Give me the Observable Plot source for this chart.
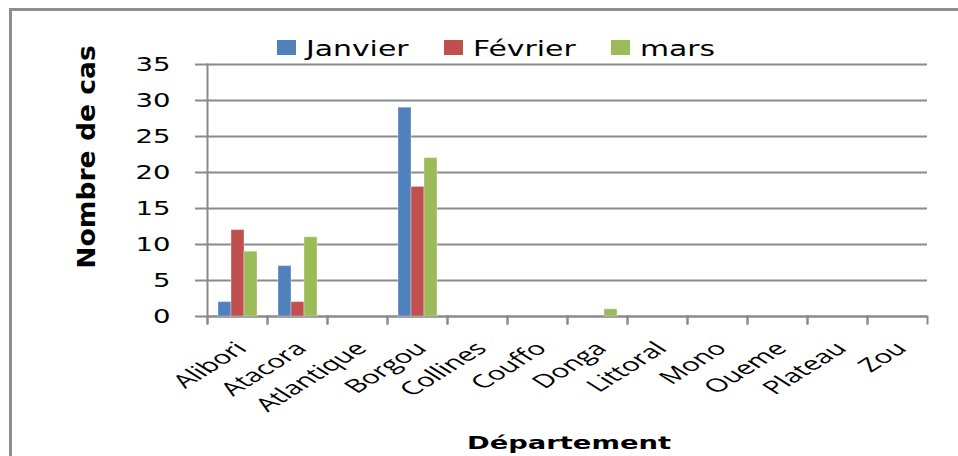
<!DOCTYPE html>
<html><head><meta charset="utf-8">
<script src="https://cdn.jsdelivr.net/npm/d3@7"></script>
<script src="https://cdn.jsdelivr.net/npm/@observablehq/plot@0.6"></script>
<style>
html,body{margin:0;padding:0;background:#fff;}
#wrap{position:relative;width:958px;height:456px;overflow:hidden;background:#fff;}
#border{position:absolute;left:9px;top:8px;width:980px;height:480px;border-left:3px solid #8e8e8e;border-top:3px solid #8e8e8e;}
#chart{position:absolute;left:0;top:0;}
#legend{position:absolute;left:277px;top:39px;display:flex;font-family:"DejaVu Sans";font-size:21px;line-height:21px;}
.item{display:flex;align-items:flex-start;width:167px;}
.sw{width:19px;height:15px;margin-top:1px;margin-right:10px;flex:none;}
.lt{display:inline-block;transform:scaleX(1.42);transform-origin:0 0;white-space:nowrap;color:#000;}
#xtitle{position:absolute;left:469px;top:434px;width:200px;text-align:center;font-family:"DejaVu Sans";font-weight:bold;font-size:18px;line-height:18px;transform:scaleX(1.52);transform-origin:50% 0;white-space:nowrap;}
#ytitle{position:absolute;left:87px;top:157px;width:0;height:0;}
#ytitle span{position:absolute;left:0;top:0;white-space:nowrap;font-family:"DejaVu Sans";font-weight:bold;font-size:19px;line-height:19px;transform-origin:0 0;transform:scale(1.3,1.4) rotate(-90deg) translate(-50%,-50%);}
</style>
</head><body>
<div id="wrap">
  <div id="border"></div>
  <div id="chart"></div>
  <div id="legend"></div>
  <div id="ytitle"><span></span></div>
  <div id="xtitle"></div>
</div>
<script>
const departements = ["Alibori","Atacora","Atlantique","Borgou","Collines","Couffo","Donga","Littoral","Mono","Oueme","Plateau","Zou"];
const mois = ["Janvier","Février","mars"];
const janvier = [2,7,0,29,0,0,0,0,0,0,0,0];
const fevrier = [12,2,0,18,0,0,0,0,0,0,0,0];
const mars    = [9,11,0,22,0,0,1,0,0,0,0,0];
const couleurs = ["#4f81bd","#c0504d","#9bbb59"];
const yTicks = [0,5,10,15,20,25,30,35];
const titreY = "Nombre de cas";
const titreX = "Département";

const series = [janvier, fevrier, mars];
const data = departements.flatMap((d, i) => mois.map((m, j) => ({dept: d, mois: m, cas: series[j][i]})));

const grey = "#8a8a8a";
const plotH = 456 - 64 - 140;

const chart = Plot.plot({
  width: 958,
  height: 456,
  marginLeft: 203,
  marginRight: 28,
  marginTop: 64,
  marginBottom: 140,
  style: {fontFamily: "DejaVu Sans", background: "transparent", overflow: "visible"},
  fx: {domain: departements, padding: 0, label: null},
  x: {domain: mois, paddingInner: 0, paddingOuter: 0.75, axis: null},
  y: {domain: [0, 35], label: null},
  color: {domain: mois, range: couleurs},
  marks: [
    Plot.gridY(yTicks, {stroke: grey, strokeOpacity: 1, strokeWidth: 2}),
    Plot.axisY(yTicks, {tickSize: 12, tickPadding: 25, fontSize: 19, stroke: grey, strokeWidth: 2, fill: "#000", label: null}),
    Plot.ruleY([0], {stroke: grey, strokeWidth: 2}),
    Plot.frame({anchor: "left", stroke: grey, strokeWidth: 2, insetTop: plotH, insetBottom: -7}),
    Plot.frame({anchor: "right", stroke: grey, strokeWidth: 2, insetTop: plotH, insetBottom: -7}),
    Plot.frame({anchor: "left", facetAnchor: "left", stroke: grey, strokeWidth: 2, insetBottom: -7}),
    Plot.barY(data, {fx: "dept", x: "mois", y: "cas", fill: "mois", stroke: "#fff", strokeOpacity: 0.35, strokeWidth: 1}),
    Plot.axisFx({anchor: "bottom", tickSize: 0, tickPadding: 29, dx: 4, tickRotate: -45, textAnchor: "end", fontSize: 18.5, fontFamily: "Open Sans", fill: "#000", label: null})
  ]
});
document.getElementById("chart").appendChild(chart);

// horizontal stretch of the tick labels, like the reference picture
function stretch(sel, k) {
  chart.querySelectorAll(sel).forEach(t => {
    const tr = t.getAttribute("transform");
    if (tr && /^translate\([^)]*\)/.test(tr)) {
      t.setAttribute("transform", tr.replace(/^(translate\([^)]*\))/, `$1 scale(${k},1)`));
    } else {
      const x = +(t.getAttribute("x") || 0), y = +(t.getAttribute("y") || 0);
      t.setAttribute("transform", `translate(${x},${y}) scale(${k},1) translate(${-x},${-y})` + (tr ? " " + tr : ""));
    }
  });
}
stretch('g[aria-label="y-axis tick label"] text', 1.45);
stretch('g[aria-label="fx-axis tick label"] text', 1.6);

const legend = document.getElementById("legend");
mois.forEach((m, i) => {
  const it = document.createElement("div"); it.className = "item";
  const sw = document.createElement("div"); sw.className = "sw"; sw.style.background = couleurs[i];
  const lt = document.createElement("span"); lt.className = "lt"; lt.textContent = m;
  it.appendChild(sw); it.appendChild(lt); legend.appendChild(it);
});
document.querySelector("#ytitle span").textContent = titreY;
document.getElementById("xtitle").textContent = titreX;
</script>
</body></html>
